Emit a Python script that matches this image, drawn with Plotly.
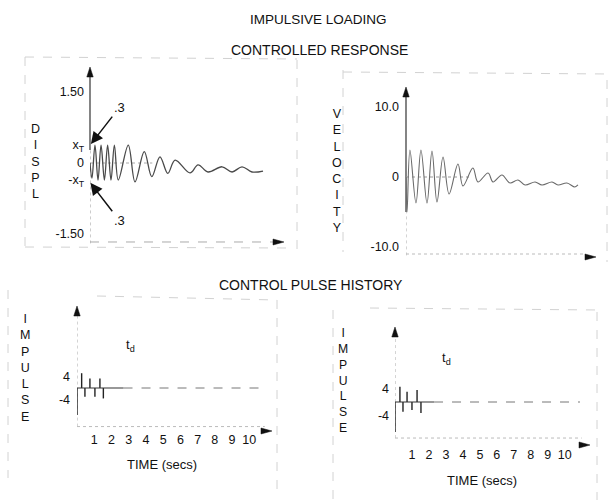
import plotly.graph_objects as go

W, H = 612, 504

# ---------------- data ----------------
# Top-left: displacement vs time (s)
displ_t = [0, 0.11, 0.28, 0.45, 0.62, 0.81, 0.99, 1.18, 1.37, 1.59, 2.15, 2.53, 3.05, 3.47,
           3.93, 4.37, 4.78, 5.62, 6.07, 6.63, 7.42, 7.98, 8.54, 9.10, 9.72]
displ_v = [0, -0.32, 0.38, -0.36, 0.38, -0.36, 0.38, -0.36, 0.38, -0.36, 0.38, -0.40, 0.24, -0.29,
           0.13, -0.22, 0.06, -0.21, -0.04, -0.19, -0.08, -0.19, -0.08, -0.19, -0.17]
displ_ticks = [1.5, 0.38, 0, -0.36, -1.5]
displ_ticktext = ["1.50", "x<sub>T</sub>", "0", "-x<sub>T</sub>", "-1.50"]

# Top-right: velocity vs time (s)
vel_t = [0, 0.06, 0.22, 0.56, 0.84, 1.18, 1.46, 1.74, 2.08, 2.42, 2.92, 3.20, 3.76, 4.04,
         4.61, 4.89, 5.39, 5.84, 6.29, 6.69, 7.25, 7.64, 8.20, 8.54, 9.04, 9.49, 9.66]
vel_v = [0, -5.0, 3.86, -3.71, 3.86, -3.71, 3.71, -3.57, 2.86, -2.43, 1.86, -1.29, 1.29, -0.71,
         0.57, -0.71, 0.29, -0.86, -0.43, -1.14, -0.71, -1.14, -0.71, -1.14, -0.86, -1.43, -1.14]
vel_ticks = [10, 0, -10]
vel_ticktext = ["10.0", "0", "-10.0"]

# Bottom: control pulse histories
pulse_t_left = [0, 0.27, 0.46, 0.75, 1.04, 1.33, 1.53]
pulse_v_left = [-9.3, 5.1, -3.0, 3.3, -3.0, 3.3, -3.6]
pulse_t_right = [0, 0.29, 0.47, 0.71, 1.00, 1.30, 1.53]
pulse_v_right = [-8.8, 4.5, -2.85, 3.0, -2.35, 3.5, -3.2]
baseline_solid_end = [2.7, 2.3]
baseline_end = [10.9, 10.9]
impulse_ticks = [4, -4]
impulse_ticktext = ["4", "-4"]
time_ticks = [1, 2, 3, 4, 5, 6, 7, 8, 9, 10]
time_ticktext = [str(v) for v in time_ticks]

FONT = "Liberation Sans, Arial, sans-serif"
INK = "#111"


def fx(px):
    return px / W


def fy(py):
    return 1 - py / H


def segs(ts, vs):
    xs, ys = [], []
    for t, v in zip(ts, vs):
        xs += [t, t, None]
        ys += [0, v, None]
    return xs, ys


fig = go.Figure()

fig.add_trace(go.Scatter(x=displ_t, y=displ_v, mode="lines", xaxis="x", yaxis="y",
                         line=dict(color="#4a4a4a", width=1.3, shape="spline", smoothing=1.0),
                         showlegend=False, hoverinfo="skip"))
fig.add_trace(go.Scatter(x=vel_t, y=vel_v, mode="lines", xaxis="x2", yaxis="y2",
                         line=dict(color="#6a6a6a", width=1.1, shape="spline", smoothing=1.0),
                         showlegend=False, hoverinfo="skip"))

for i, (pt, pv, ax_x, ax_y) in enumerate([(pulse_t_left, pulse_v_left, "x3", "y3"),
                                           (pulse_t_right, pulse_v_right, "x4", "y4")]):
    xs, ys = segs(pt, pv)
    fig.add_trace(go.Scatter(x=xs, y=ys, mode="lines", xaxis=ax_x, yaxis=ax_y,
                             line=dict(color="#222", width=1.4),
                             showlegend=False, hoverinfo="skip"))
    fig.add_trace(go.Scatter(x=[0, baseline_solid_end[i]], y=[0, 0], mode="lines",
                             xaxis=ax_x, yaxis=ax_y, line=dict(color="#333", width=1.2),
                             showlegend=False, hoverinfo="skip"))
    fig.add_trace(go.Scatter(x=[baseline_solid_end[i], baseline_end[i]], y=[0, 0], mode="lines",
                             xaxis=ax_x, yaxis=ax_y, line=dict(color="#777", width=1, dash="dash"),
                             showlegend=False, hoverinfo="skip"))

ax_common = dict(showgrid=False, zeroline=False, showline=False, ticks="",
                 tickfont=dict(family=FONT, size=12.5, color=INK))

fig.update_layout(
    width=W, height=H, margin=dict(l=0, r=0, t=0, b=0),
    paper_bgcolor="white", plot_bgcolor="rgba(0,0,0,0)",
    font=dict(family=FONT, color=INK),
    xaxis=dict(domain=[fx(90), fx(290)], range=[0, 200 / 17.8], showticklabels=False, anchor="y", **ax_common),
    yaxis=dict(domain=[fy(250), fy(62)], range=[(163 - 250) / 47.3, (163 - 62) / 47.3], anchor="x",
               tickvals=displ_ticks, ticktext=displ_ticktext, ticklabelstandoff=5, **ax_common),
    xaxis2=dict(domain=[fx(406), fx(606)], range=[0, 200 / 17.8], showticklabels=False, anchor="y2", **ax_common),
    yaxis2=dict(domain=[fy(266), fy(70)], range=[(177 - 266) / 7.0, (177 - 70) / 7.0], anchor="x2",
                tickvals=vel_ticks, ticktext=vel_ticktext, ticklabelstandoff=6, **ax_common),
    xaxis3=dict(domain=[fx(77), fx(290)], range=[0, 213 / 17.23], anchor="y3",
                tickvals=time_ticks, ticktext=time_ticktext, ticklabelstandoff=2, **ax_common),
    yaxis3=dict(domain=[fy(428), fy(300)], range=[(388 - 428) / 2.9, (388 - 300) / 2.9], anchor="x3",
                tickvals=impulse_ticks, ticktext=impulse_ticktext, ticklabelstandoff=6, **ax_common),
    xaxis4=dict(domain=[fx(395), fx(605)], range=[0, 210 / 16.97], anchor="y4",
                tickvals=time_ticks, ticktext=time_ticktext, ticklabelstandoff=2, **ax_common),
    yaxis4=dict(domain=[fy(443), fy(318)], range=[(402 - 443) / 3.4, (402 - 318) / 3.4], anchor="x4",
                tickvals=impulse_ticks, ticktext=impulse_ticktext, ticklabelstandoff=5, **ax_common),
)

shapes = []
ann = []


def line(xref, yref, x0, y0, x1, y1, color="#bbb", width=1, dash="solid"):
    shapes.append(dict(type="line", xref=xref, yref=yref, x0=x0, y0=y0, x1=x1, y1=y1,
                       line=dict(color=color, width=width, dash=dash), layer="below"))


def pline(x0, y0, x1, y1, color="#333", width=1.2, dash="solid"):
    line("paper", "paper", fx(x0), fy(y0), fx(x1), fy(y1), color=color, width=width, dash=dash)


def head(px, py, direction, length=10, half=3.2, color="#111"):
    """Filled arrowhead (paper coords) with its tip at pixel (px, py)."""
    if direction == "up":
        pts = [(px, py), (px - half, py + length), (px + half, py + length)]
    else:
        pts = [(px, py), (px - length, py - half), (px - length, py + half)]
    path = "M " + " L ".join(f"{fx(a):.5f},{fy(b):.5f}" for a, b in pts) + " Z"
    shapes.append(dict(type="path", xref="paper", yref="paper", path=path,
                       fillcolor=color, line=dict(color=color, width=0.5)))


def text(px, py, s, size=13, **kw):
    ann.append(dict(xref="paper", yref="paper", x=fx(px), y=fy(py), text=s, showarrow=False,
                    font=dict(family=FONT, size=size, color=INK), xanchor="center", yanchor="middle", **kw))


# faint frames (paper coords)
fr = "#d2d2d2"
for (x0, y0, x1, y1) in [(25, 57, 25, 250), (25, 57, 297, 59), (297, 60, 297, 250), (25, 247, 288, 248),
                         (343, 70, 343, 252), (343, 72, 610, 74), (607, 80, 607, 262),
                         (8, 290, 8, 478), (97, 296, 277, 300), (277, 300, 277, 492),
                         (333, 310, 333, 500), (370, 308, 600, 310), (597, 312, 597, 500)]:
    pline(x0, y0, x1, y1, color=fr, width=1, dash="dash")

# Top-left axes
line("x", "y", 0, -1.70, 0, 0.4, color="#9a9a9a", width=1, dash="dot")
pline(90, 150, 90, 76, color="#333", width=1.2)
head(90, 67, "up")
line("x", "y", 0, 0, 3.5, 0, color="#aaa", width=1, dash="dot")
line("x", "y", 0, -1.67, 10.3, -1.67, color="#aaa", width=1, dash="dash")
head(284, 242, "right", length=11, half=3)
# .3 markers
ann.append(dict(xref="x", yref="y", axref="x", ayref="y", x=0.05, y=0.40, ax=1.25, ay=0.98,
                text=".3", showarrow=True, arrowhead=2, arrowsize=1.6, arrowwidth=1.5, arrowcolor="#111",
                font=dict(family=FONT, size=13, color=INK), xanchor="left", yanchor="bottom"))
ann.append(dict(xref="x", yref="y", axref="x", ayref="y", x=0.02, y=-0.42, ax=1.25, ay=-1.02,
                text=".3", showarrow=True, arrowhead=2, arrowsize=1.6, arrowwidth=1.5, arrowcolor="#111",
                font=dict(family=FONT, size=13, color=INK), xanchor="left", yanchor="top"))

# Top-right axes
line("x2", "y2", 0, -11.2, 0, -5.0, color="#aaa", width=1, dash="dot")
pline(406, 212, 406, 96, color="#333", width=1.2)
head(406, 87, "up")
line("x2", "y2", 0, 0, 3.6, 0, color="#999", width=1, dash="dot")
line("x2", "y2", 0, -11.0, 10.0, -11.0, color="#bbb", width=1, dash="dot")
head(596, 257, "right", length=11, half=3)

# Bottom-left axes
line("x3", "y3", 0, -13.3, 0, 26.0, color="#aaa", width=1, dash="dot")
head(77, 306, "up")
line("x3", "y3", 0, -13.3, 10.9, -13.3, color="#bbb", width=1, dash="dot")
head(272, 431, "right", length=11, half=3)

# Bottom-right axes
line("x4", "y4", 0, -10.6, 0, 20.5, color="#aaa", width=1, dash="dot")
head(395, 327, "up")
line("x4", "y4", 0, -10.6, 11.0, -10.6, color="#bbb", width=1, dash="dot")
head(590, 445, "right", length=11, half=3)

# Titles & labels
text(318, 20, "IMPULSIVE LOADING", size=13.5)
text(319, 50, "CONTROLLED RESPONSE", size=14)
text(311, 285, "CONTROL PULSE HISTORY", size=14)
text(35, 162, "D<br>I<br>S<br>P<br>L", size=12.5)
text(337, 171, "V<br>E<br>L<br>O<br>C<br>I<br>T<br>Y", size=12.5)
text(25, 368, "I<br>M<br>P<br>U<br>L<br>S<br>E", size=12.5)
text(343, 380, "I<br>M<br>P<br>U<br>L<br>S<br>E", size=12.2)
text(130, 345, "t<sub>d</sub>", size=13)
text(446, 358, "t<sub>d</sub>", size=13)
text(162, 464, "TIME (secs)", size=13)
text(482, 480, "TIME (secs)", size=13)

fig.update_layout(shapes=shapes, annotations=ann)
fig.write_html("out.html")
